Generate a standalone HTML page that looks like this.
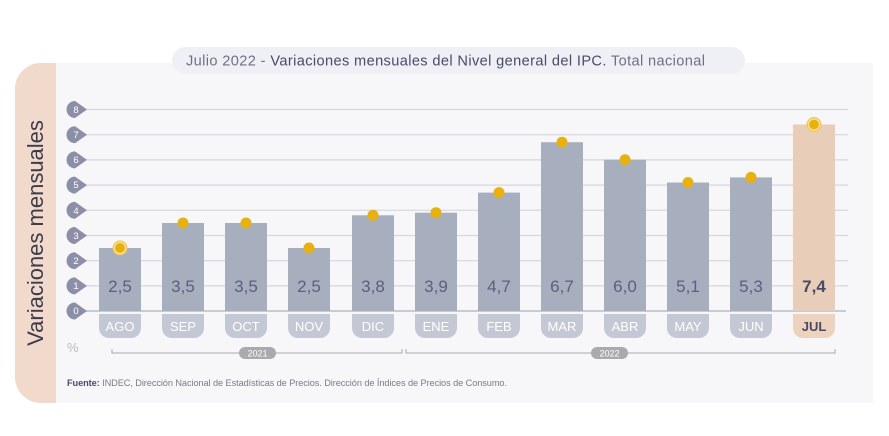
<!DOCTYPE html>
<html><head><meta charset="utf-8"><style>
body{margin:0;width:889px;height:431px;background:#fff;overflow:hidden;font-family:"Liberation Sans",sans-serif}
</style></head><body>
<svg width="889" height="431" xmlns="http://www.w3.org/2000/svg" font-family="Liberation Sans, sans-serif">
<rect x="15" y="63" width="858" height="340" rx="26" fill="#f1d9cb"/>
<rect x="56" y="63" width="817" height="340" fill="#f7f7f9"/>
<rect x="172" y="47" width="573" height="27" rx="13.5" fill="#eef0f6"/>
<text x="186" y="65.5" font-size="14.6" fill="#6f6f85" textLength="519" lengthAdjust="spacing">Julio 2022 -  <tspan fill="#4a4a6a">Variaciones mensuales del Nivel general del IPC.</tspan> Total nacional</text>
<text transform="translate(43,233) rotate(-90)" text-anchor="middle" font-size="22" fill="#3c3c4c">Variaciones mensuales</text>
<g stroke="#d6d6de" stroke-width="1.2">
<line x1="86" x2="848" y1="109.5" y2="109.5"/><line x1="86" x2="848" y1="134.7" y2="134.7"/>
<line x1="86" x2="848" y1="159.9" y2="159.9"/><line x1="86" x2="848" y1="185.1" y2="185.1"/>
<line x1="86" x2="848" y1="210.3" y2="210.3"/><line x1="86" x2="848" y1="235.5" y2="235.5"/>
<line x1="86" x2="848" y1="260.7" y2="260.7"/><line x1="86" x2="848" y1="285.9" y2="285.9"/>
</g>
<line x1="86" x2="846" y1="311" y2="311" stroke="#c8cad4" stroke-width="2"/>
<g fill="#8d8fa8">
<path d="M75 101 a8.5 8.5 0 1 0 0 17 l12 -8.5z"/><path d="M75 126.2 a8.5 8.5 0 1 0 0 17 l12 -8.5z"/>
<path d="M75 151.4 a8.5 8.5 0 1 0 0 17 l12 -8.5z"/><path d="M75 176.6 a8.5 8.5 0 1 0 0 17 l12 -8.5z"/>
<path d="M75 201.8 a8.5 8.5 0 1 0 0 17 l12 -8.5z"/><path d="M75 227 a8.5 8.5 0 1 0 0 17 l12 -8.5z"/>
<path d="M75 252.2 a8.5 8.5 0 1 0 0 17 l12 -8.5z"/><path d="M75 277.4 a8.5 8.5 0 1 0 0 17 l12 -8.5z"/>
<path d="M75 302.5 a8.5 8.5 0 1 0 0 17 l12 -8.5z"/>
</g>
<g font-size="9.5" fill="#fff" text-anchor="middle">
<text x="76" y="113">8</text><text x="76" y="138">7</text><text x="76" y="163">6</text><text x="76" y="188">5</text><text x="76" y="214">4</text><text x="76" y="239">3</text><text x="76" y="264">2</text><text x="76" y="289">1</text><text x="76" y="314">0</text>
</g>
<g fill="#a7afbf">
<rect x="99" y="248" width="42" height="63"/><rect x="162" y="223" width="42" height="88"/>
<rect x="225" y="223" width="42" height="88"/><rect x="288" y="248" width="42" height="63"/>
<rect x="352" y="215.3" width="42" height="95.7"/><rect x="415" y="212.7" width="42" height="98.3"/>
<rect x="478" y="192.6" width="42" height="118.4"/><rect x="541" y="142.2" width="42" height="168.8"/>
<rect x="604" y="159.8" width="42" height="151.2"/><rect x="667" y="182.5" width="42" height="128.5"/>
<rect x="730" y="177.4" width="42" height="133.6"/>
</g>
<rect x="793" y="124.5" width="42" height="186.5" fill="#e8cdb9"/>
<g fill="#c4c8d4">
<path d="M99 314h42v14a10 10 0 0 1-10 10h-22a10 10 0 0 1-10-10z"/><path d="M162 314h42v14a10 10 0 0 1-10 10h-22a10 10 0 0 1-10-10z"/>
<path d="M225 314h42v14a10 10 0 0 1-10 10h-22a10 10 0 0 1-10-10z"/><path d="M288 314h42v14a10 10 0 0 1-10 10h-22a10 10 0 0 1-10-10z"/>
<path d="M352 314h42v14a10 10 0 0 1-10 10h-22a10 10 0 0 1-10-10z"/><path d="M415 314h42v14a10 10 0 0 1-10 10h-22a10 10 0 0 1-10-10z"/>
<path d="M478 314h42v14a10 10 0 0 1-10 10h-22a10 10 0 0 1-10-10z"/><path d="M541 314h42v14a10 10 0 0 1-10 10h-22a10 10 0 0 1-10-10z"/>
<path d="M604 314h42v14a10 10 0 0 1-10 10h-22a10 10 0 0 1-10-10z"/><path d="M667 314h42v14a10 10 0 0 1-10 10h-22a10 10 0 0 1-10-10z"/>
<path d="M730 314h42v14a10 10 0 0 1-10 10h-22a10 10 0 0 1-10-10z"/>
<path fill="#ecd2bf" d="M793 314h42v14a10 10 0 0 1-10 10h-22a10 10 0 0 1-10-10z"/>
</g>
<g font-size="13" fill="#fff" text-anchor="middle">
<text x="120" y="331">AGO</text><text x="183" y="331">SEP</text><text x="246" y="331">OCT</text><text x="309" y="331">NOV</text><text x="373" y="331">DIC</text><text x="436" y="331">ENE</text><text x="499" y="331">FEB</text><text x="562" y="331">MAR</text><text x="625" y="331">ABR</text><text x="688" y="331">MAY</text><text x="751" y="331">JUN</text>
<text x="814" y="331" fill="#4a4a66" font-weight="bold">JUL</text>
</g>
<g font-size="17" fill="#596080" text-anchor="middle">
<text x="120" y="292">2,5</text><text x="183" y="292">3,5</text><text x="246" y="292">3,5</text><text x="309" y="292">2,5</text><text x="373" y="292">3,8</text><text x="436" y="292">3,9</text><text x="499" y="292">4,7</text><text x="562" y="292">6,7</text><text x="625" y="292">6,0</text><text x="688" y="292">5,1</text><text x="751" y="292">5,3</text>
<text x="814" y="292" fill="#4a4a66" font-weight="bold">7,4</text>
</g>
<g fill="#e8b10f">
<circle cx="120" cy="248" r="7.5" fill="#f0c85a"/><circle cx="120" cy="248" r="5.5" stroke="#fbe9b0" stroke-width="1"/>
<circle cx="183" cy="223" r="5.5"/><circle cx="246" cy="223" r="5.5"/><circle cx="309" cy="248" r="5.5"/>
<circle cx="373" cy="215.3" r="5.5"/><circle cx="436" cy="212.7" r="5.5"/><circle cx="499" cy="192.6" r="5.5"/>
<circle cx="562" cy="142.2" r="5.5"/><circle cx="625" cy="159.8" r="5.5"/><circle cx="688" cy="182.5" r="5.5"/>
<circle cx="751" cy="177.4" r="5.5"/>
<circle cx="814" cy="124.5" r="7.5" fill="#f0c85a"/><circle cx="814" cy="124.5" r="5.5" stroke="#fbe9b0" stroke-width="1"/>
</g>
<text x="67" y="352" font-size="13" fill="#b8b8c4">%</text>
<g stroke="#a8a8b0" stroke-width="1" fill="none">
<path d="M112 349v4h290v-4"/><path d="M406 349v4h429v-4"/>
</g>
<rect x="239" y="347" width="37" height="12" rx="6" fill="#a9a9ae"/>
<rect x="591" y="347" width="37" height="12" rx="6" fill="#a9a9ae"/>
<text x="257.5" y="356.5" font-size="9" fill="#fff" text-anchor="middle">2021</text>
<text x="609.5" y="356.5" font-size="9" fill="#fff" text-anchor="middle">2022</text>
<text x="67" y="386" font-size="9.2" fill="#7a7a8a" textLength="440" lengthAdjust="spacing"><tspan font-weight="bold" fill="#4a4a6a">Fuente:</tspan> INDEC, Dirección Nacional de Estadísticas de Precios. Dirección de Índices de Precios de Consumo.</text>
</svg>
</body></html>
